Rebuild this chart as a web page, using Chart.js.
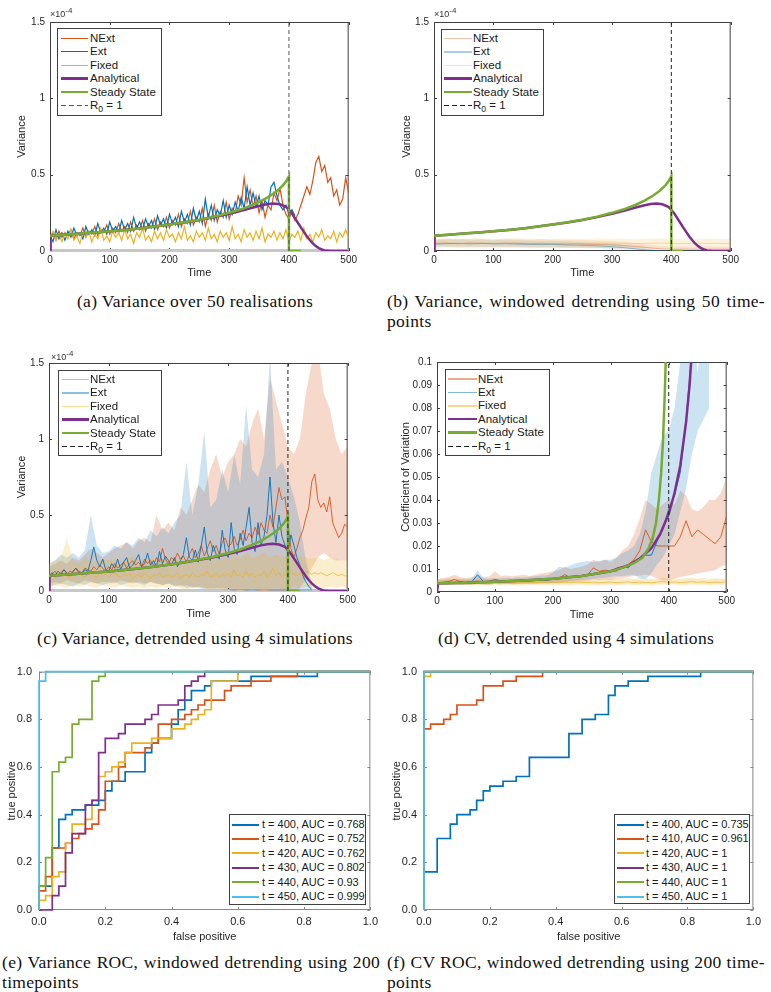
<!DOCTYPE html>
<html>
<head>
<meta charset="utf-8">
<script src="https://cdn.jsdelivr.net/npm/chart.js@4.4.0/dist/chart.umd.min.js"></script>
<style>
  body { margin: 0; background: #fff; width: 771px; height: 992px; position: relative; overflow: hidden;
         font-family: "Liberation Sans", Arial, sans-serif; color: #262626; }
  canvas { position: absolute; }
  .cap { position: absolute; font-family: "Liberation Serif", "Times New Roman", serif; font-size: 17.5px;
         letter-spacing: 0.3px; line-height: 20px; color: #111; white-space: nowrap; }
  .just { text-align: justify; text-align-last: justify; }
  .leg { position: absolute; border: 1px solid #404040; background: #fff; box-sizing: border-box; }
  .leg .txt { position: absolute; white-space: nowrap; line-height: 14px; color: #1a1a1a; }
  .leg sub { font-size: 0.75em; vertical-align: -3px; line-height: 0; }
  .expo { position: absolute; font-size: 9px; color: #333; white-space: nowrap; }
  .expo sup { font-size: 8px; vertical-align: 4px; line-height: 0; }
</style>
</head>
<body>
<canvas id="chA" width="360" height="286"></canvas>
<canvas id="chB" width="358" height="286"></canvas>
<canvas id="chC" width="359" height="285"></canvas>
<canvas id="chD" width="353" height="287"></canvas>
<canvas id="chE" width="383" height="287"></canvas>
<canvas id="chF" width="381" height="287"></canvas>

<div class="cap" style="left:0;width:390px;top:291px;text-align:center">(a) Variance over 50 realisations</div>
<div class="cap just" style="left:387px;width:378px;top:291px">(b) Variance, windowed detrending using 50 time-</div>
<div class="cap" style="left:387px;top:311px">points</div>
<div class="cap" style="left:0;width:390px;top:628px;text-align:center">(c) Variance, detrended using 4 simulations</div>
<div class="cap" style="left:387px;width:378px;top:628px;text-align:center">(d) CV, detrended using 4 simulations</div>
<div class="cap just" style="left:2px;width:378px;top:952px">(e) Variance ROC, windowed detrending using 200</div>
<div class="cap" style="left:2px;top:972px">timepoints</div>
<div class="cap just" style="left:387px;width:378px;top:952px">(f) CV ROC, windowed detrending using 200 time-</div>
<div class="cap" style="left:387px;top:972px">points</div>

<div class="expo" style="left:50px;top:9px">&times;10<sup>-4</sup></div>
<div class="expo" style="left:434px;top:9px">&times;10<sup>-4</sup></div>
<div class="expo" style="left:51px;top:352px">&times;10<sup>-4</sup></div>

<script>
Chart.defaults.font.family = '"Liberation Sans", Arial, sans-serif';
Chart.defaults.color = '#262626';

// ---------- data ----------
const seriesNames = ['NExt', 'Ext', 'Fixed', 'Analytical', 'Steady State'];
const r0Time = 400;

const timeTicks = [0, 100, 200, 300, 400, 500];
const varTicks = [0, 0.5, 1, 1.5];          // x 10^-4
const cvTicks = [0, 0.01, 0.02, 0.03, 0.04, 0.05, 0.06, 0.07, 0.08, 0.09, 0.1];
const rocTicks = [0, 0.2, 0.4, 0.6, 0.8, 1];

// time grids
const t5 = Array.from({ length: 101 }, (_, i) => i * 5);
const t10 = Array.from({ length: 51 }, (_, i) => i * 10);
const t20 = Array.from({ length: 26 }, (_, i) => i * 20);

// analytical and steady-state variance (x 10^-4)
const anT = [0, 1, 25, 50, 75, 100, 125, 150, 175, 200,
  225, 250, 275, 300, 320, 340, 355, 365, 375, 385,
  395, 400, 405, 410, 415, 420, 425, 430, 435, 440,
  445, 450, 455, 460, 470, 500];
const anV = [0, 0.1, 0.107, 0.114, 0.121, 0.129, 0.138, 0.148, 0.16, 0.173,
  0.187, 0.203, 0.222, 0.243, 0.263, 0.285, 0.3, 0.308, 0.311, 0.306,
  0.29, 0.27, 0.245, 0.215, 0.185, 0.155, 0.125, 0.097, 0.072, 0.05,
  0.032, 0.019, 0.01, 0.004, 0, 0];
const ssT = [0, 25, 50, 75, 100, 125, 150, 175, 200, 225,
  250, 275, 300, 320, 340, 355, 370, 380, 390, 395,
  400, 400, 420];
const ssV = [0.1, 0.107, 0.114, 0.121, 0.129, 0.138, 0.148, 0.16, 0.173, 0.188,
  0.205, 0.225, 0.25, 0.273, 0.303, 0.33, 0.365, 0.393, 0.43, 0.455,
  0.49, 0, 0];

// (a) variance over 50 realisations, every 5 time units
const aNExt = [0.08, 0.12, 0.07, 0.13, 0.09, 0.12, 0.1, 0.14, 0.08, 0.12,
  0.1, 0.15, 0.09, 0.13, 0.11, 0.16, 0.1, 0.14, 0.12, 0.17,
  0.11, 0.15, 0.12, 0.18, 0.13, 0.16, 0.12, 0.19, 0.13, 0.17,
  0.14, 0.2, 0.13, 0.18, 0.15, 0.21, 0.14, 0.19, 0.16, 0.22,
  0.15, 0.2, 0.17, 0.24, 0.16, 0.21, 0.18, 0.26, 0.17, 0.22,
  0.19, 0.28, 0.16, 0.24, 0.2, 0.3, 0.19, 0.26, 0.22, 0.32,
  0.21, 0.28, 0.25, 0.36, 0.3, 0.48, 0.32, 0.4, 0.29, 0.36,
  0.25, 0.33, 0.22, 0.3, 0.27, 0.38, 0.33, 0.41, 0.3, 0.24,
  0.21, 0.26, 0.2, 0.24, 0.3, 0.36, 0.42, 0.37, 0.46, 0.58,
  0.62, 0.52, 0.56, 0.45, 0.48, 0.36, 0.4, 0.3, 0.34, 0.48,
  0.38];
const aExt = [0.1, 0.06, 0.14, 0.08, 0.12, 0.07, 0.13, 0.09, 0.15, 0.1,
  0.12, 0.08, 0.16, 0.11, 0.14, 0.1, 0.18, 0.12, 0.15, 0.11,
  0.19, 0.13, 0.16, 0.12, 0.2, 0.14, 0.18, 0.13, 0.22, 0.15,
  0.19, 0.14, 0.21, 0.16, 0.2, 0.14, 0.23, 0.17, 0.21, 0.15,
  0.24, 0.18, 0.22, 0.16, 0.26, 0.19, 0.24, 0.17, 0.28, 0.2,
  0.26, 0.18, 0.34, 0.22, 0.3, 0.2, 0.27, 0.23, 0.33, 0.22,
  0.3, 0.24, 0.32, 0.26, 0.35, 0.28, 0.42, 0.3, 0.38, 0.29,
  0.36, 0.27, 0.33, 0.3, 0.42, 0.45, 0.36, 0.3, 0.27, 0.3,
  0.24, 0.27, 0.23, null, null, null, null, null, null, null,
  null, null, null, null, null, null, null, null, null, null,
  null];
const aFixed = [0.09, 0.13, 0.07, 0.11, 0.06, 0.12, 0.08, 0.14, 0.07, 0.1,
  0.05, 0.12, 0.09, 0.13, 0.06, 0.11, 0.08, 0.15, 0.07, 0.1,
  0.06, 0.13, 0.09, 0.12, 0.07, 0.14, 0.08, 0.11, 0.05, 0.12,
  0.09, 0.15, 0.07, 0.1, 0.06, 0.13, 0.08, 0.12, 0.07, 0.14,
  0.09, 0.11, 0.06, 0.12, 0.08, 0.16, 0.07, 0.1, 0.06, 0.13,
  0.09, 0.12, 0.07, 0.15, 0.08, 0.11, 0.06, 0.13, 0.09, 0.12,
  0.07, 0.16, 0.08, 0.11, 0.06, 0.14, 0.09, 0.12, 0.07, 0.13,
  0.08, 0.15, 0.06, 0.11, 0.09, 0.13, 0.07, 0.12, 0.08, 0.14,
  0.06, 0.11, 0.09, 0.13, 0.07, 0.15, 0.08, 0.11, 0.06, 0.12,
  0.09, 0.14, 0.07, 0.1, 0.08, 0.13, 0.06, 0.12, 0.09, 0.14,
  0.08];

// (b) windowed detrending (50 points), every 20 time units
const bNExt = [0.05, 0.052, 0.048, 0.053, 0.05, 0.049, 0.052, 0.05, 0.047, 0.05,
  0.048, 0.046, 0.047, 0.044, 0.042, 0.04, 0.036, 0.03, 0.022, 0.015,
  0.012, 0.013, 0.012, 0.013, 0.012, 0.012];
const bNExtHi = [0.075, 0.08, 0.075, 0.08, 0.078, 0.076, 0.08, 0.078, 0.074, 0.078,
  0.075, 0.072, 0.074, 0.07, 0.068, 0.065, 0.06, 0.052, 0.042, 0.032,
  0.028, 0.03, 0.028, 0.03, 0.028, 0.028];
const bNExtLo = [0.03, 0.032, 0.028, 0.03, 0.03, 0.028, 0.03, 0.028, 0.026, 0.028,
  0.026, 0.025, 0.024, 0.022, 0.02, 0.018, 0.015, 0.012, 0.008, 0.005,
  0.003, 0.004, 0.003, 0.004, 0.003, 0.003];
const bExt = [0.045, 0.048, 0.05, 0.047, 0.05, 0.046, 0.048, 0.045, 0.044, 0.042,
  0.043, 0.04, 0.038, 0.036, 0.033, 0.028, 0.022, 0.014, 0.006, 0.002,
  0, 0, 0, 0, 0, 0];
const bExtHi = [0.07, 0.075, 0.078, 0.072, 0.076, 0.07, 0.074, 0.07, 0.068, 0.066,
  0.067, 0.064, 0.06, 0.058, 0.054, 0.048, 0.04, 0.028, 0.014, 0.006,
  0.002, 0.001, 0.001, 0.001, 0.001, 0.001];
const bExtLo = [0.025, 0.026, 0.028, 0.026, 0.028, 0.025, 0.026, 0.024, 0.023, 0.022,
  0.022, 0.02, 0.019, 0.018, 0.016, 0.012, 0.009, 0.005, 0.002, 0,
  0, 0, 0, 0, 0, 0];
const bFixed = [0.05, 0.052, 0.05, 0.048, 0.051, 0.05, 0.049, 0.052, 0.05, 0.05,
  0.048, 0.051, 0.05, 0.049, 0.052, 0.05, 0.051, 0.049, 0.05, 0.052,
  0.05, 0.049, 0.051, 0.05, 0.05, 0.048];
const bFixedHi = [0.08, 0.082, 0.078, 0.08, 0.083, 0.079, 0.08, 0.084, 0.08, 0.079,
  0.078, 0.082, 0.08, 0.079, 0.083, 0.08, 0.082, 0.078, 0.08, 0.083,
  0.08, 0.079, 0.082, 0.08, 0.08, 0.078];
const bFixedLo = [0.02, 0.022, 0.02, 0.018, 0.021, 0.02, 0.019, 0.022, 0.02, 0.02,
  0.018, 0.021, 0.02, 0.019, 0.022, 0.02, 0.021, 0.019, 0.02, 0.022,
  0.02, 0.019, 0.021, 0.02, 0.02, 0.018];

// (c) detrended using 4 simulations: means every 5, bands every 10
const cNExt = [0.1, 0.11, 0.13, 0.1, 0.12, 0.14, 0.11, 0.13, 0.12, 0.15,
  0.13, 0.12, 0.15, 0.14, 0.13, 0.16, 0.14, 0.17, 0.15, 0.13,
  0.16, 0.14, 0.18, 0.15, 0.17, 0.19, 0.15, 0.18, 0.2, 0.17,
  0.19, 0.16, 0.21, 0.18, 0.2, 0.17, 0.22, 0.19, 0.28, 0.21,
  0.18, 0.22, 0.2, 0.25, 0.21, 0.23, 0.19, 0.24, 0.28, 0.22,
  0.25, 0.3, 0.23, 0.28, 0.33, 0.26, 0.3, 0.24, 0.32, 0.35,
  0.29, 0.31, 0.36, 0.3, 0.34, 0.4, 0.33, 0.38, 0.35, 0.42,
  0.37, 0.45, 0.4, 0.38, 0.5, 0.42, 0.55, 0.68, 0.6, 0.62,
  0.45, 0.28, 0.22, 0.28, 0.35, 0.4, 0.48, 0.55, 0.72, 0.77,
  0.6, 0.55, 0.58, 0.52, 0.62, 0.45, 0.4, 0.35, 0.38, 0.44,
  0.42];
const cExt = [0.1, 0.12, 0.1, 0.13, 0.11, 0.14, 0.12, 0.1, 0.13, 0.15,
  0.12, 0.11, 0.14, 0.13, 0.2, 0.29, 0.2, 0.16, 0.21, 0.14,
  0.13, 0.18, 0.15, 0.21, 0.14, 0.19, 0.22, 0.15, 0.17, 0.2,
  0.24, 0.16, 0.18, 0.25, 0.17, 0.2, 0.16, 0.26, 0.18, 0.23,
  0.2, 0.17, 0.22, 0.16, 0.2, 0.24, 0.35, 0.22, 0.2, 0.27,
  0.19, 0.3, 0.42, 0.25, 0.2, 0.3, 0.24, 0.21, 0.4, 0.27,
  0.22, 0.45, 0.28, 0.24, 0.38, 0.3, 0.42, 0.55, 0.32, 0.26,
  0.45, 0.3, 0.36, 0.5, 0.75, 0.45, 0.32, 0.5, 0.36, 0.3,
  0.25, 0.37, 0.3, 0.22, 0.17, 0.1, 0.06, 0.03, 0.01, null,
  null, null, null, null, null, null, null, null, null, null,
  null];
const cFixed = [0.1, 0.11, 0.09, 0.12, 0.1, 0.13, 0.1, 0.09, 0.11, 0.1,
  0.12, 0.1, 0.09, 0.11, 0.13, 0.1, 0.09, 0.12, 0.1, 0.11,
  0.09, 0.11, 0.12, 0.1, 0.09, 0.11, 0.1, 0.12, 0.08, 0.1,
  0.11, 0.09, 0.12, 0.1, 0.08, 0.11, 0.1, 0.12, 0.09, 0.1,
  0.11, 0.09, 0.1, 0.12, 0.08, 0.1, 0.11, 0.09, 0.12, 0.1,
  0.09, 0.11, 0.1, 0.13, 0.09, 0.1, 0.12, 0.09, 0.11, 0.1,
  0.12, 0.09, 0.14, 0.1, 0.11, 0.09, 0.13, 0.1, 0.12, 0.09,
  0.11, 0.1, 0.13, 0.09, 0.11, 0.15, 0.1, 0.12, 0.09, 0.11,
  0.1, 0.12, 0.11, 0.1, 0.12, 0.11, 0.13, 0.12, 0.11, 0.12,
  0.11, 0.12, 0.11, 0.1, 0.11, 0.12, 0.11, 0.1, 0.11, 0.1,
  0.1];
const cNExtHi = [0.16, 0.18, 0.2, 0.18, 0.22, 0.2, 0.24, 0.28, 0.25, 0.22,
  0.25, 0.28, 0.3, 0.32, 0.28, 0.33, 0.35, 0.32, 0.5, 0.4,
  0.45, 0.4, 0.55, 0.5, 0.6, 0.7, 0.65, 0.8, 0.9, 0.75,
  0.85, 0.9, 1.0, 0.95, 1.1, 1.2, 1.0, 1.4, 1.25, 1.1,
  0.95, 0.9, 1.0, 1.3, 1.5, 1.6, 1.3, 1.2, 1.0, 0.9,
  0.95];
const cNExtLo = [0.05, 0.06, 0.05, 0.07, 0.06, 0.05, 0.07, 0.06, 0.05, 0.06,
  0.06, 0.05, 0.07, 0.06, 0.05, 0.06, 0.05, 0.06, 0.05, 0.04,
  0.05, 0.04, 0.03, 0.04, 0.02, 0.03, 0.02, 0.01, 0.02, 0.01,
  0.01, 0, 0.01, 0, 0.01, 0, 0, 0, 0, 0,
  0, 0, 0.02, 0.08, 0.15, 0.22, 0.25, 0.22, 0.2, 0.2,
  0.2];
const cExtHi = [0.18, 0.2, 0.24, 0.22, 0.25, 0.22, 0.27, 0.5, 0.3, 0.25,
  0.26, 0.3, 0.28, 0.32, 0.3, 0.35, 0.32, 0.4, 0.36, 0.42,
  0.38, 0.45, 0.5, 0.85, 0.5, 0.7, 1.05, 0.55, 0.6, 0.8,
  0.65, 0.9, 0.7, 1.22, 0.8, 0.75, 0.9, 1.55, 0.8, 0.85,
  0.75, 0.62, 0.45, 0.2, 0.05, null, null, null, null, null,
  null];
const cExtLo = [0.03, 0.04, 0.05, 0.04, 0.03, 0.05, 0.04, 0.06, 0.05, 0.04,
  0.05, 0.06, 0.04, 0.05, 0.06, 0.05, 0.04, 0.06, 0.05, 0.04,
  0.05, 0.03, 0.04, 0.02, 0.03, 0.02, 0.01, 0.02, 0.01, 0.02,
  0.01, 0, 0.01, 0, 0, 0, 0.01, 0, 0, 0,
  0, 0, 0, 0, 0, null, null, null, null, null,
  null];
const cFixedHi = [0.18, 0.2, 0.22, 0.35, 0.2, 0.18, 0.22, 0.2, 0.19, 0.21,
  0.2, 0.22, 0.19, 0.21, 0.23, 0.2, 0.19, 0.22, 0.2, 0.21,
  0.22, 0.2, 0.23, 0.21, 0.2, 0.24, 0.22, 0.2, 0.23, 0.21,
  0.22, 0.24, 0.21, 0.25, 0.22, 0.23, 0.26, 0.22, 0.24, 0.23,
  0.22, 0.21, 0.23, 0.22, 0.21, 0.22, 0.2, 0.22, 0.21, 0.2,
  0.2];
const cFixedLo = [0.03, 0.04, 0.03, 0.02, 0.04, 0.03, 0.04, 0.03, 0.02, 0.04,
  0.03, 0.02, 0.04, 0.03, 0.02, 0.03, 0.02, 0.03, 0.02, 0.03,
  0.02, 0.03, 0.02, 0.01, 0.02, 0.03, 0.02, 0.01, 0.02, 0.01,
  0.02, 0.01, 0, 0.01, 0.02, 0.01, 0, 0.01, 0.02, 0.01,
  0.02, 0.03, 0.02, 0.03, 0.02, 0.03, 0.02, 0.03, 0.02, 0.03,
  0.02];

// (d) coefficient of variation, every 10 time units
const dNExt = [0.004, 0.0042, 0.0045, 0.0055, 0.0045, 0.0042, 0.0045, 0.0048, 0.0045, 0.0046,
  0.0055, 0.0048, 0.005, 0.0047, 0.005, 0.0052, 0.0049, 0.0051, 0.0055, 0.0053,
  0.0058, 0.006, 0.0075, 0.0065, 0.007, 0.0072, 0.0075, 0.0105, 0.009, 0.0095,
  0.009, 0.0105, 0.011, 0.012, 0.014, 0.018, 0.027, 0.022, 0.02, 0.02,
  0.02, 0.02, 0.024, 0.031, 0.024, 0.027, 0.025, 0.023, 0.021, 0.024,
  0.033];
const dNExtHi = [0.0055, 0.006, 0.0065, 0.0075, 0.0065, 0.006, 0.0065, 0.007, 0.0065, 0.0066,
  0.009, 0.007, 0.0072, 0.0068, 0.0072, 0.0075, 0.007, 0.0075, 0.008, 0.0085,
  0.009, 0.0095, 0.011, 0.01, 0.0105, 0.011, 0.012, 0.014, 0.013, 0.014,
  0.013, 0.015, 0.018, 0.02, 0.025, 0.032, 0.04, 0.038, 0.036, 0.038,
  0.04, 0.038, 0.044, 0.042, 0.036, 0.035, 0.037, 0.04, 0.04, 0.043,
  0.05];
const dNExtLo = [0.003, 0.003, 0.0032, 0.0035, 0.0032, 0.003, 0.0032, 0.0034, 0.0032, 0.0033,
  0.0036, 0.0034, 0.0035, 0.0033, 0.0035, 0.0036, 0.0034, 0.0035, 0.0037, 0.0036,
  0.0038, 0.004, 0.0045, 0.0042, 0.0045, 0.0046, 0.0047, 0.0055, 0.0052, 0.0054,
  0.0052, 0.0058, 0.006, 0.0065, 0.007, 0.0072, 0.0075, 0.007, 0.006, 0.005,
  0.005, 0.006, 0.0065, 0.007, 0.0075, 0.008, 0.0085, 0.009, 0.0095, 0.011,
  0.012];
const dExt = [0.0038, 0.004, 0.0042, 0.004, 0.0043, 0.0041, 0.0044, 0.0075, 0.0045, 0.0044,
  0.0046, 0.0045, 0.0047, 0.0046, 0.0048, 0.0047, 0.0049, 0.005, 0.0052, 0.0051,
  0.0055, 0.0058, 0.006, 0.0065, 0.0068, 0.007, 0.0075, 0.008, 0.0082, 0.0085,
  0.009, 0.0092, 0.011, 0.0105, 0.013, 0.014, 0.016, 0.016, 0.022, 0.028,
  0.036, 0.042, 0.052, 0.075, 0.105, null, null, null, null, null,
  null];
const dExtHi = [0.005, 0.0052, 0.0055, 0.0052, 0.0056, 0.0054, 0.0057, 0.0095, 0.006, 0.0058,
  0.006, 0.006, 0.0062, 0.006, 0.0064, 0.0063, 0.0066, 0.0068, 0.0072, 0.0072,
  0.0085, 0.011, 0.0105, 0.0115, 0.0125, 0.013, 0.0135, 0.013, 0.0135, 0.014,
  0.014, 0.015, 0.017, 0.018, 0.02, 0.025, 0.035, 0.052, 0.06, 0.068,
  0.07, 0.08, 0.1, 0.11, 0.12, 0.095, 0.12, 0.12, null, null,
  null];
const dExtLo = [0.003, 0.003, 0.0032, 0.003, 0.0032, 0.0031, 0.0033, 0.0045, 0.0034, 0.0033,
  0.0035, 0.0034, 0.0036, 0.0035, 0.0036, 0.0036, 0.0037, 0.0038, 0.0039, 0.0039,
  0.004, 0.0042, 0.0044, 0.0047, 0.005, 0.0052, 0.0055, 0.0058, 0.006, 0.0062,
  0.0065, 0.0068, 0.007, 0.0072, 0.0075, 0.006, 0.0055, 0.008, 0.012, 0.015,
  0.02, 0.025, 0.035, 0.045, 0.06, 0.07, 0.075, 0.08, null, null,
  null];
const dFixed = [0.004, 0.0042, 0.0041, 0.0043, 0.004, 0.0042, 0.0041, 0.0043, 0.0042, 0.004,
  0.0042, 0.0041, 0.0043, 0.0042, 0.004, 0.0042, 0.0043, 0.0041, 0.0042, 0.004,
  0.0043, 0.0041, 0.0042, 0.004, 0.0043, 0.0042, 0.0041, 0.0043, 0.004, 0.0042,
  0.0043, 0.0041, 0.0042, 0.0044, 0.0041, 0.0043, 0.0042, 0.004, 0.0043, 0.0045,
  0.0042, 0.0044, 0.0041, 0.0043, 0.0045, 0.0042, 0.0044, 0.0041, 0.0043, 0.0042,
  0.0044];
const dFixedHi = [0.0056, 0.0058, 0.0057, 0.0059, 0.0056, 0.0058, 0.0057, 0.0059, 0.0058, 0.0056,
  0.0058, 0.0057, 0.0059, 0.0058, 0.0056, 0.0058, 0.0059, 0.0057, 0.0058, 0.0056,
  0.0059, 0.0057, 0.0058, 0.0056, 0.0059, 0.0058, 0.0057, 0.0059, 0.0056, 0.0058,
  0.0059, 0.0057, 0.0058, 0.006, 0.0057, 0.0059, 0.0058, 0.0056, 0.0059, 0.0062,
  0.0058, 0.0061, 0.0057, 0.006, 0.0062, 0.0058, 0.0061, 0.0057, 0.006, 0.0058,
  0.0061];
const dFixedLo = [0.003, 0.0031, 0.003, 0.0032, 0.0029, 0.0031, 0.003, 0.0032, 0.0031, 0.0029,
  0.0031, 0.003, 0.0032, 0.0031, 0.0029, 0.0031, 0.0032, 0.003, 0.0031, 0.0029,
  0.0032, 0.003, 0.0031, 0.0029, 0.0032, 0.0031, 0.003, 0.0032, 0.0029, 0.0031,
  0.0032, 0.003, 0.0031, 0.0033, 0.003, 0.0032, 0.0031, 0.0029, 0.0032, 0.0033,
  0.0031, 0.0033, 0.003, 0.0032, 0.0033, 0.0031, 0.0033, 0.003, 0.0032, 0.0031,
  0.0033];
const cvAnT = [0, 2, 50, 100, 150, 200, 250, 300, 330, 350, 370, 385, 400, 410, 420, 430, 436, 440];
const cvAnV = [0, 0.0038, 0.004, 0.0045, 0.005, 0.0058, 0.007, 0.009, 0.0115, 0.0145, 0.019, 0.025, 0.034, 0.043, 0.055, 0.074, 0.09, 0.105];
const cvSsT = [0, 50, 100, 150, 200, 250, 300, 320, 340, 355, 365, 372, 378, 383, 387, 390, 393, 396];
const cvSsV = [0.0038, 0.004, 0.0045, 0.005, 0.0058, 0.007, 0.009, 0.0105, 0.0125, 0.015, 0.019, 0.023, 0.03, 0.04, 0.052, 0.065, 0.085, 0.11];

// ROC curves (false positive / true positive corner points)
const rocTimes = [400, 410, 420, 430, 440, 450];
const varAuc = ['0.768', '0.752', '0.762', '0.802', '0.93', '0.999'];
const cvAuc = ['0.735', '0.961', '1', '1', '1', '1'];

const varRoc400Fp = [0, 0, 0.04, 0.06, 0.08, 0.1, 0.14, 0.18, 0.2, 0.22, 0.26, 0.32, 0.34, 0.36, 0.4, 0.42, 0.44, 0.46, 0.5, 0.52, 0.64, 0.84, 1];
const varRoc400Tp = [0, 0.1, 0.26, 0.38, 0.4, 0.42, 0.44, 0.46, 0.5, 0.54, 0.58, 0.66, 0.7, 0.72, 0.78, 0.84, 0.88, 0.92, 0.94, 0.96, 0.98, 1, 1];
const varRoc410Fp = [0, 0, 0.02, 0.04, 0.08, 0.1, 0.12, 0.14, 0.16, 0.18, 0.2, 0.24, 0.26, 0.32, 0.34, 0.36, 0.4, 0.44, 0.46, 0.48, 0.5, 0.56, 0.58, 0.64, 0.7, 0.78, 1];
const varRoc410Tp = [0, 0.08, 0.14, 0.26, 0.28, 0.3, 0.32, 0.34, 0.36, 0.42, 0.54, 0.6, 0.66, 0.68, 0.7, 0.78, 0.8, 0.82, 0.84, 0.86, 0.88, 0.92, 0.94, 0.96, 0.98, 1, 1];
const varRoc420Fp = [0, 0, 0.02, 0.04, 0.06, 0.08, 0.1, 0.14, 0.16, 0.18, 0.2, 0.22, 0.24, 0.26, 0.28, 0.34, 0.4, 0.44, 0.46, 0.48, 0.5, 0.52, 0.6, 1];
const varRoc420Tp = [0, 0.04, 0.06, 0.14, 0.16, 0.28, 0.36, 0.38, 0.46, 0.56, 0.58, 0.6, 0.62, 0.66, 0.7, 0.72, 0.76, 0.78, 0.8, 0.82, 0.84, 0.96, 1, 1];
const varRoc430Fp = [0, 0.04, 0.06, 0.08, 0.1, 0.14, 0.16, 0.18, 0.2, 0.24, 0.26, 0.32, 0.34, 0.36, 0.42, 0.44, 0.46, 0.48, 0.5, 1];
const varRoc430Tp = [0, 0.06, 0.1, 0.24, 0.32, 0.44, 0.46, 0.66, 0.72, 0.74, 0.78, 0.8, 0.82, 0.86, 0.88, 0.94, 0.96, 0.98, 1, 1];
const varRoc440Fp = [0, 0, 0.02, 0.04, 0.06, 0.08, 0.1, 0.12, 0.16, 0.18, 0.2, 1];
const varRoc440Tp = [0, 0.1, 0.22, 0.58, 0.62, 0.64, 0.78, 0.8, 0.96, 0.98, 1, 1];
const varRoc450Fp = [0, 0, 0.02, 1];
const varRoc450Tp = [0, 0.96, 1, 1];

const cvRoc400Fp = [0, 0, 0.04, 0.08, 0.1, 0.14, 0.16, 0.18, 0.2, 0.24, 0.28, 0.32, 0.44, 0.48, 0.52, 0.56, 0.58, 0.62, 0.68, 0.84, 1];
const cvRoc400Tp = [0, 0.16, 0.3, 0.36, 0.4, 0.42, 0.46, 0.5, 0.52, 0.54, 0.56, 0.64, 0.74, 0.8, 0.82, 0.9, 0.94, 0.96, 0.98, 1, 1];
const cvRoc410Fp = [0, 0, 0.02, 0.06, 0.08, 0.1, 0.16, 0.18, 0.24, 0.28, 0.36, 1];
const cvRoc410Tp = [0, 0.76, 0.78, 0.8, 0.82, 0.86, 0.88, 0.94, 0.96, 0.98, 1, 1];
const cvRoc420Fp = [0, 0, 0.02, 1];
const cvRoc420Tp = [0, 0.98, 1, 1];
const cvRoc430Fp = [0, 0, 1];
const cvRoc430Tp = [0, 1, 1];
const cvRoc440Fp = [0, 0, 1];
const cvRoc440Tp = [0, 1, 1];
const cvRoc450Fp = [0, 0, 1];
const cvRoc450Tp = [0, 1, 1];

// ---------- styling ----------
const COL = { next: '#D95319', ext: '#0072BD', fix: '#EDB120', an: '#7E2F8E', ss: '#77AC30', cy: '#4DBEEE' };
const rocColors = [COL.ext, COL.next, COL.fix, COL.an, COL.ss, COL.cy];

function rgba(hex, a) {
  const n = parseInt(hex.slice(1), 16);
  return `rgba(${n >> 16},${(n >> 8) & 255},${n & 255},${a})`;
}

function pts(xs, ys) {
  return xs.map((x, i) => ({ x: x, y: ys[i] === undefined ? null : ys[i] }));
}

function line(xs, ys, color, width, order, extra) {
  return Object.assign({
    data: pts(xs, ys), borderColor: color, borderWidth: width, pointRadius: 0,
    fill: false, tension: 0, order: order
  }, extra || {});
}

// two datasets: lower edge then upper edge filled down to it
function band(xs, lo, hi, color, order) {
  return [
    { data: pts(xs, lo), borderWidth: 0, borderColor: 'rgba(0,0,0,0)', pointRadius: 0, fill: false, order: order },
    { data: pts(xs, hi), borderWidth: 0, borderColor: 'rgba(0,0,0,0)', pointRadius: 0, fill: '-1', backgroundColor: color, order: order }
  ];
}

// MATLAB style box with inward ticks on all four sides
const boxPlugin = {
  id: 'box',
  beforeDatasetsDraw(chart, args, o) {
    const { ctx, chartArea: a, scales: { x, y } } = chart;
    const L = o.tick || 3;
    ctx.save();
    ctx.strokeStyle = o.color || '#262626';
    ctx.lineWidth = 1;
    ctx.beginPath();
    x.ticks.forEach(t => {
      const p = Math.round(x.getPixelForValue(t.value)) + 0.5;
      ctx.moveTo(p, a.bottom); ctx.lineTo(p, a.bottom - L);
      ctx.moveTo(p, a.top); ctx.lineTo(p, a.top + L);
    });
    y.ticks.forEach(t => {
      const p = Math.round(y.getPixelForValue(t.value)) + 0.5;
      ctx.moveTo(a.left, p); ctx.lineTo(a.left + L, p);
      ctx.moveTo(a.right, p); ctx.lineTo(a.right - L, p);
    });
    ctx.stroke();
    ctx.strokeRect(a.left + 0.5, a.top + 0.5, a.right - a.left - 1, a.bottom - a.top - 1);
    if (o.bottomColor) {
      ctx.strokeStyle = o.bottomColor;
      ctx.lineWidth = 3;
      ctx.beginPath();
      ctx.moveTo(a.left, a.bottom - 0.5); ctx.lineTo(a.right, a.bottom - 0.5);
      ctx.stroke();
    }
    ctx.restore();
  }
};

function place(id, g) {
  const c = document.getElementById(id);
  c.style.left = g.left + 'px';
  c.style.top = g.top + 'px';
  return c;
}

function makeChart(id, g, datasets, ax) {
  const canvas = place(id, g);
  const tickFont = { size: ax.tickSize };
  const titleFont = { size: ax.titleSize };
  return new Chart(canvas, {
    type: 'line',
    data: { datasets: datasets },
    options: {
      responsive: false, animation: false, events: [],
      layout: { padding: { left: 0, top: g.padT, right: g.padR, bottom: 0 } },
      plugins: { legend: { display: false }, tooltip: { enabled: false }, box: ax.box },
      scales: {
        x: {
          type: 'linear', min: ax.xTicks[0], max: ax.xTicks[ax.xTicks.length - 1],
          afterBuildTicks: s => { s.ticks = ax.xTicks.map(v => ({ value: v })); },
          afterFit: s => { s.height = g.xH; },
          grid: { display: false, drawTicks: false }, border: { display: false },
          ticks: { font: tickFont, color: '#262626', padding: g.xTickPad, maxRotation: 0, autoSkip: false, callback: ax.xFmt },
          title: { display: true, text: ax.xTitle, font: titleFont, color: '#262626', padding: { top: 0, bottom: g.xTitlePad } }
        },
        y: {
          type: 'linear', min: ax.yTicks[0], max: ax.yTicks[ax.yTicks.length - 1],
          afterBuildTicks: s => { s.ticks = ax.yTicks.map(v => ({ value: v })); },
          afterFit: s => { s.width = g.yW; },
          grid: { display: false, drawTicks: false }, border: { display: false },
          ticks: { font: tickFont, color: '#262626', padding: g.yTickPad, autoSkip: false, callback: ax.yFmt },
          title: { display: true, text: ax.yTitle, font: titleFont, color: '#262626', padding: { top: g.yTitlePad, bottom: 0 } }
        }
      }
    },
    plugins: [boxPlugin]
  });
}

function legend(g, rows) {
  const box = document.createElement('div');
  box.className = 'leg';
  box.style.cssText = `left:${g.left}px;top:${g.top}px;width:${g.w}px;height:${g.h}px;font-size:${g.font}px`;
  rows.forEach((r, i) => {
    const cy = g.first + g.step * i;
    const s = document.createElement('div');
    const bg = r.dash
      ? `repeating-linear-gradient(90deg, ${r.color} 0 5px, transparent 5px 8px)`
      : r.color;
    s.style.cssText = `position:absolute;left:${g.sx}px;width:${g.sw}px;top:${cy - r.w / 2}px;height:${r.w}px;background:${bg}`;
    box.appendChild(s);
    const t = document.createElement('div');
    t.className = 'txt';
    t.style.left = g.tx + 'px';
    t.style.top = (cy - 7.5) + 'px';
    t.innerHTML = r.label;
    box.appendChild(t);
  });
  document.body.appendChild(box);
}

const fmtPlain = v => String(Math.round(v * 1000) / 1000);
const fmtOne = v => v.toFixed(1);
const last = a => a[a.length - 1];

// ---------- panels ----------
const geo = {
  a: { left: 0, top: 0, yW: 50, padT: 22, padR: 9, xH: 35, yTitlePad: 15.2, xTitlePad: 6.2, yTickPad: 5, xTickPad: 3 },
  b: { left: 384, top: 0, yW: 50, padT: 22, padR: 9, xH: 35, yTitlePad: 15.9, xTitlePad: 6.2, yTickPad: 5, xTickPad: 3 },
  c: { left: 0, top: 341, yW: 49, padT: 22, padR: 9, xH: 35, yTitlePad: 14.9, xTitlePad: 5.2, yTickPad: 5, xTickPad: 3 },
  d: { left: 385, top: 340, yW: 52, padT: 22, padR: 9, xH: 35, yTitlePad: 13.9, xTitlePad: 5.9, yTickPad: 5, xTickPad: 3 },
  e: { left: 0, top: 658, yW: 39, padT: 10, padR: 10, xH: 35, yTitlePad: 5, xTitlePad: 1.5, yTickPad: 7, xTickPad: 5 },
  f: { left: 385, top: 658, yW: 39, padT: 10, padR: 10, xH: 35, yTitlePad: 5, xTitlePad: 1.5, yTickPad: 7, xTickPad: 5 }
};

const varAxes = {
  xTicks: timeTicks, yTicks: varTicks, xTitle: 'Time', yTitle: 'Variance',
  xFmt: fmtPlain, yFmt: fmtPlain, tickSize: 10, titleSize: 11
};

function r0Line(ticks, color) {
  return line([r0Time, r0Time], [ticks[0], last(ticks)], color, 1, 0, { borderDash: [4, 3] });
}

// (a)
makeChart('chA', geo.a, [
  line(t5, aNExt, COL.next, 1.2, 6),
  line(t5, aExt, COL.ext, 1.2, 5),
  line(t5, aFixed, COL.fix, 1.2, 4),
  line(anT, anV, COL.an, 2.5, 3),
  line(ssT, ssV, COL.ss, 2.5, 2),
  r0Line(varTicks, '#555')
], Object.assign({ box: { color: '#404040', bottomColor: '#c8c8c8' } }, varAxes));

// (b)
makeChart('chB', geo.b, [
  ...band(t20, bNExtLo, bNExtHi, rgba(COL.next, 0.12), 9),
  ...band(t20, bExtLo, bExtHi, rgba(COL.ext, 0.1), 8),
  ...band(t20, bFixedLo, bFixedHi, rgba(COL.fix, 0.15), 7),
  line(t20, bNExt, rgba(COL.next, 0.4), 1, 6),
  line(t20, bExt, rgba(COL.ext, 0.4), 1, 5),
  line(t20, bFixed, rgba(COL.fix, 0.4), 1, 4),
  line(anT, anV, COL.an, 2.5, 3),
  line(ssT, ssV, COL.ss, 2.5, 2),
  r0Line(varTicks, '#222')
], Object.assign({ box: { color: '#404040' } }, varAxes));

// (c)
makeChart('chC', geo.c, [
  ...band(t10, cNExtLo, cNExtHi, rgba(COL.next, 0.22), 9),
  ...band(t10, cExtLo, cExtHi, rgba(COL.ext, 0.2), 8),
  ...band(t10, cFixedLo, cFixedHi, rgba(COL.fix, 0.22), 7),
  line(t5, cNExt, COL.next, 0.9, 6),
  line(t5, cExt, COL.ext, 0.9, 5),
  line(t5, cFixed, rgba(COL.fix, 0.8), 0.9, 4),
  line(anT, anV, COL.an, 2.5, 3),
  line(ssT, ssV, COL.ss, 2.5, 2),
  r0Line(varTicks, '#222')
], Object.assign({ box: { color: '#404040', bottomColor: '#c8c8c8' } }, varAxes));

// (d)
makeChart('chD', geo.d, [
  ...band(t10, dNExtLo, dNExtHi, rgba(COL.next, 0.22), 9),
  ...band(t10, dExtLo, dExtHi, rgba(COL.ext, 0.2), 8),
  ...band(t10, dFixedLo, dFixedHi, rgba(COL.fix, 0.25), 7),
  line(t10, dNExt, COL.next, 0.9, 6),
  line(t10, dExt, COL.ext, 0.9, 5),
  line(t10, dFixed, rgba(COL.fix, 0.8), 0.9, 4),
  line(cvAnT, cvAnV, COL.an, 2.5, 3),
  line(cvSsT, cvSsV, COL.ss, 2.5, 2),
  r0Line(cvTicks, '#222')
], {
  xTicks: timeTicks, yTicks: cvTicks, xTitle: 'Time', yTitle: 'Coefficient of Variation',
  xFmt: fmtPlain, yFmt: fmtPlain, tickSize: 10, titleSize: 11, box: { color: '#404040' }
});

// (e), (f) ROC
const rocAxes = {
  xTicks: rocTicks, yTicks: rocTicks, xTitle: 'false positive', yTitle: 'true positive',
  xFmt: fmtOne, yFmt: fmtOne, tickSize: 11, titleSize: 11, box: { color: '#8a8a8a' }
};
const varRoc = [[varRoc400Fp, varRoc400Tp], [varRoc410Fp, varRoc410Tp], [varRoc420Fp, varRoc420Tp],
  [varRoc430Fp, varRoc430Tp], [varRoc440Fp, varRoc440Tp], [varRoc450Fp, varRoc450Tp]];
const cvRoc = [[cvRoc400Fp, cvRoc400Tp], [cvRoc410Fp, cvRoc410Tp], [cvRoc420Fp, cvRoc420Tp],
  [cvRoc430Fp, cvRoc430Tp], [cvRoc440Fp, cvRoc440Tp], [cvRoc450Fp, cvRoc450Tp]];

// horizontal move first, then the vertical jump at each corner point
function rocSets(curves) {
  return curves.map((c, i) => line(c[0], c[1], rocColors[i], 1.7, 10 - i, { stepped: 'before', clip: 4 }));
}
makeChart('chE', geo.e, rocSets(varRoc), rocAxes);
makeChart('chF', geo.f, rocSets(cvRoc), rocAxes);

// ---------- legends ----------
function seriesRows(faint, dashColor) {
  return [
    { label: seriesNames[0], color: faint ? rgba(COL.next, faint) : COL.next, w: faint ? 1.5 : 1.2 },
    { label: seriesNames[1], color: faint ? rgba(COL.ext, faint) : COL.ext, w: faint ? 1.5 : 1.2 },
    { label: seriesNames[2], color: faint ? rgba(COL.fix, faint) : COL.fix, w: faint ? 1.5 : 1.2 },
    { label: seriesNames[3], color: COL.an, w: 2.5 },
    { label: seriesNames[4], color: COL.ss, w: 2.5 },
    { label: 'R<sub>0</sub> = 1', color: dashColor, w: 1, dash: true }
  ];
}
legend({ left: 57, top: 28, w: 105, h: 88, font: 11.5, first: 9.5, step: 13.4, sx: 3, sw: 27, tx: 32 }, seriesRows(0, '#555'));
legend({ left: 441, top: 29, w: 103, h: 87, font: 11.5, first: 8.5, step: 13.4, sx: 2, sw: 28, tx: 31 }, seriesRows(0.35, '#222'));
legend({ left: 58, top: 370, w: 104, h: 86, font: 11.5, first: 8.5, step: 13.4, sx: 3, sw: 27, tx: 31 }, seriesRows(0.45, '#222'));
legend({ left: 445, top: 369, w: 105, h: 87, font: 11.5, first: 9, step: 13.4, sx: 2, sw: 29, tx: 32 }, seriesRows(0.5, '#222'));

const rocRows = auc => rocTimes.map((t, i) => ({ label: `t = ${t}, AUC = ${auc[i]}`, color: rocColors[i], w: 2 }));
legend({ left: 229, top: 814, w: 137, h: 91, font: 11, first: 9.5, step: 14.4, sx: 2, sw: 27, tx: 32 }, rocRows(varAuc));
legend({ left: 614, top: 814, w: 136, h: 90, font: 11, first: 9.5, step: 14.4, sx: 2, sw: 27, tx: 31 }, rocRows(cvAuc));
</script>
</body>
</html>
